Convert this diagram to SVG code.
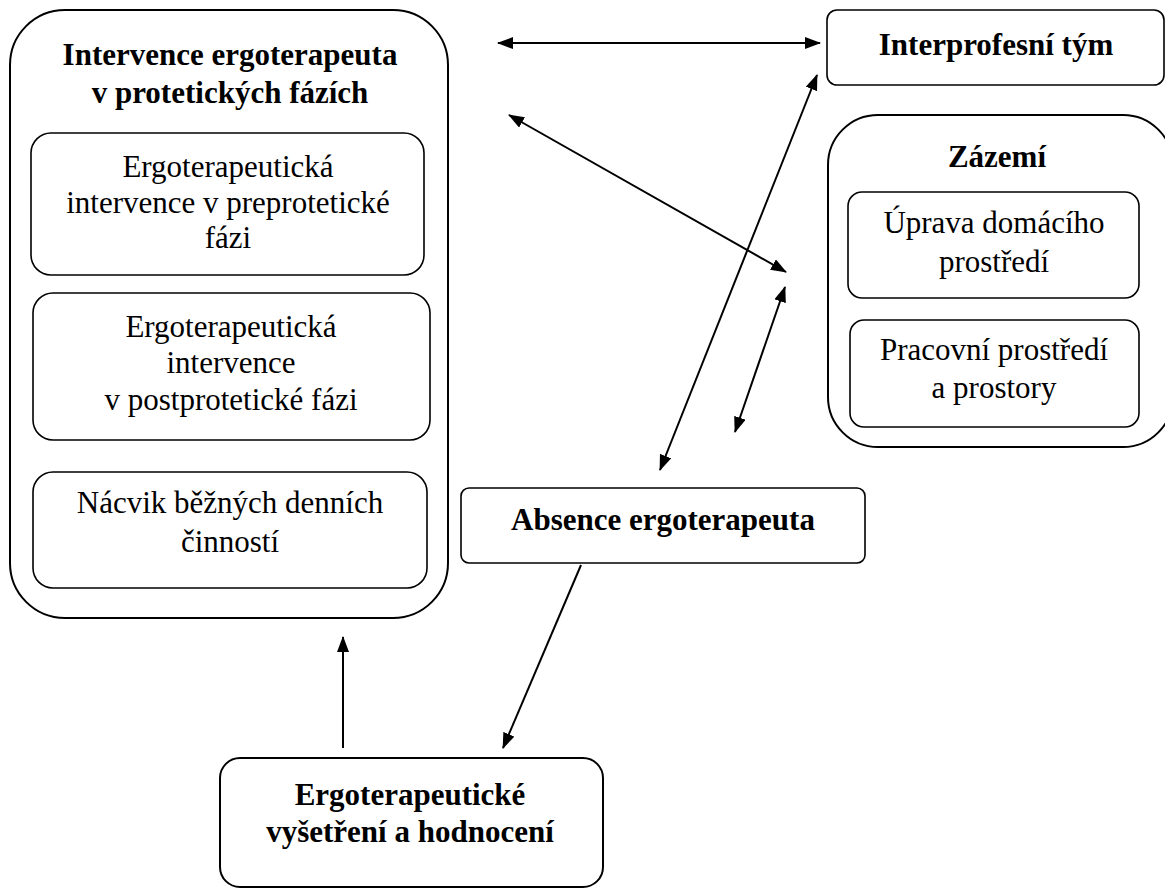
<svg xmlns="http://www.w3.org/2000/svg" width="1165" height="889" viewBox="0 0 1165 889">
<defs>
<style>
.box{fill:#fff;stroke:#000;stroke-width:2}
.inner{fill:#fff;stroke:#000;stroke-width:1.6}
.t{font-family:'Liberation Serif',serif !important;font-size:31px;fill:#000;text-anchor:middle}
.b{font-weight:bold}
.c{stroke:#000;stroke-width:2;fill:none}
</style>
<marker id="ah" markerUnits="userSpaceOnUse" markerWidth="16" markerHeight="12" refX="15" refY="6" orient="auto-start-reverse" viewBox="0 0 16 12">
<path d="M0,0 L16,6 L0,12 z" fill="#000"/>
</marker>
</defs>
<rect width="1165" height="889" fill="#fff"/>
<g id="intervence">
<rect class="box" x="10" y="10" width="438" height="608" rx="55" ry="55"/>
<text class="t b" style="font-family:'Liberation Serif',serif" x="230" y="65">Intervence ergoterapeuta</text>
<text class="t b" style="font-family:'Liberation Serif',serif" x="230" y="103">v protetických fázích</text>
</g>
<g id="preproteticka">
<rect class="inner" x="31" y="133" width="393" height="142" rx="20" ry="20"/>
<text class="t" style="font-family:'Liberation Serif',serif" x="228" y="177">Ergoterapeutická</text>
<text class="t" style="font-family:'Liberation Serif',serif" x="228" y="213">intervence v preprotetické</text>
<text class="t" style="font-family:'Liberation Serif',serif" x="228" y="248">fázi</text>
</g>
<g id="postproteticka">
<rect class="inner" x="33" y="293" width="397" height="147" rx="20" ry="20"/>
<text class="t" style="font-family:'Liberation Serif',serif" x="231" y="337">Ergoterapeutická</text>
<text class="t" style="font-family:'Liberation Serif',serif" x="231" y="373">intervence</text>
<text class="t" style="font-family:'Liberation Serif',serif" x="231" y="410">v postprotetické fázi</text>
</g>
<g id="nacvik">
<rect class="inner" x="33" y="472" width="394" height="116" rx="20" ry="20"/>
<text class="t" style="font-family:'Liberation Serif',serif" x="230" y="513">Nácvik běžných denních</text>
<text class="t" style="font-family:'Liberation Serif',serif" x="230" y="552">činností</text>
</g>
<g id="interprofesni">
<rect class="inner" x="827" y="10" width="337" height="75" rx="10" ry="10"/>
<text class="t b" style="font-family:'Liberation Serif',serif" x="996" y="55">Interprofesní tým</text>
</g>
<g id="zazemi">
<rect class="box" x="828" y="115" width="345" height="332" rx="50" ry="50"/>
<text class="t b" style="font-family:'Liberation Serif',serif" x="997" y="167">Zázemí</text>
</g>
<g id="uprava">
<rect class="inner" x="848" y="192" width="291" height="106" rx="14" ry="14"/>
<text class="t" style="font-family:'Liberation Serif',serif" x="994" y="233">Úprava domácího</text>
<text class="t" style="font-family:'Liberation Serif',serif" x="994" y="272">prostředí</text>
</g>
<g id="pracovni">
<rect class="inner" x="850" y="320" width="289" height="107" rx="14" ry="14"/>
<text class="t" style="font-family:'Liberation Serif',serif" x="994" y="360">Pracovní prostředí</text>
<text class="t" style="font-family:'Liberation Serif',serif" x="994" y="398">a prostory</text>
</g>
<g id="absence">
<rect class="inner" x="461" y="488" width="404" height="75" rx="8" ry="8"/>
<text class="t b" style="font-family:'Liberation Serif',serif" x="663" y="530">Absence ergoterapeuta</text>
</g>
<g id="vysetreni">
<rect class="box" x="220" y="758" width="383" height="129" rx="20" ry="20"/>
<text class="t b" style="font-family:'Liberation Serif',serif" x="410" y="805">Ergoterapeutické</text>
<text class="t b" style="font-family:'Liberation Serif',serif" x="410" y="842">vyšetření a hodnocení</text>
</g>
<g id="connectors">
<line class="c" x1="498" y1="43" x2="820" y2="43" marker-start="url(#ah)" marker-end="url(#ah)"/>
<line class="c" x1="509" y1="115" x2="786" y2="272" marker-start="url(#ah)" marker-end="url(#ah)"/>
<line class="c" x1="817" y1="75" x2="660" y2="470" marker-start="url(#ah)" marker-end="url(#ah)"/>
<line class="c" x1="785" y1="287" x2="735" y2="432" marker-start="url(#ah)" marker-end="url(#ah)"/>
<line class="c" x1="581" y1="565" x2="503" y2="748" marker-end="url(#ah)"/>
<line class="c" x1="343" y1="748" x2="343" y2="637" marker-end="url(#ah)"/>
</g>
</svg>
